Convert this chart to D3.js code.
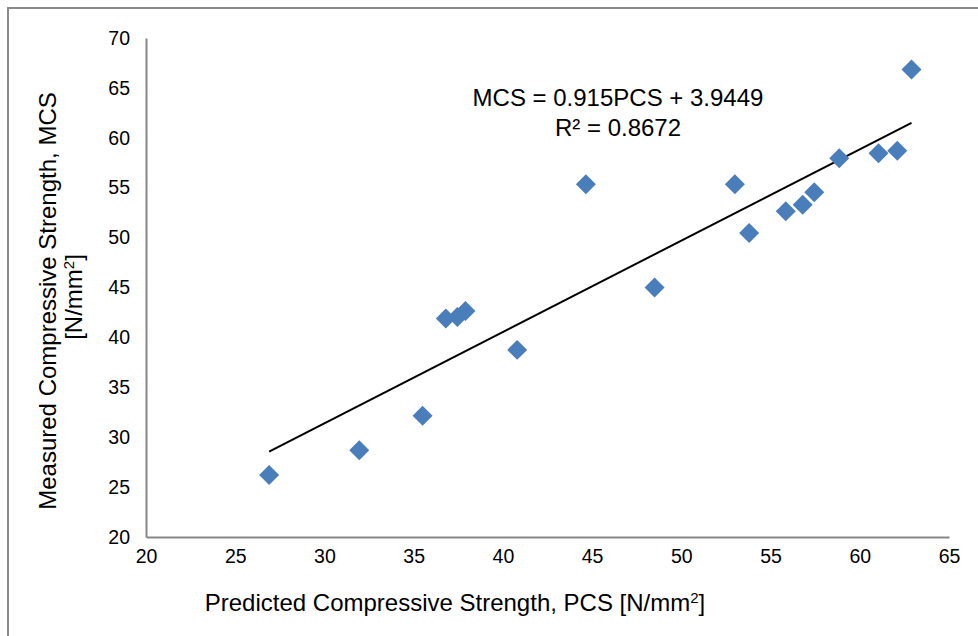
<!DOCTYPE html>
<html>
<head>
<meta charset="utf-8">
<script src="https://cdn.jsdelivr.net/npm/d3@7"></script>
<style>
  body { margin: 0; background: #fff; }
  svg text { font-family: "Liberation Sans", Arial, sans-serif; fill: #000; }
</style>
</head>
<body>
<div class="Graph"></div>
<script>
// predicted (x) vs measured (y) compressive strength
const pcs = [26.9, 31.95, 35.5, 36.8, 37.45, 37.9, 40.8, 44.65, 48.5, 53.0, 53.8, 55.85, 56.8, 57.45, 58.85, 61.05, 62.1, 62.9];
const mcs = [26.2, 28.7, 32.15, 41.9, 42.05, 42.65, 38.75, 55.35, 45.0, 55.35, 50.45, 52.65, 53.3, 54.55, 57.95, 58.45, 58.7, 66.85];
const slope = 0.915, intercept = 3.9449;
const eqLines = ["MCS = 0.915PCS + 3.9449", "R² = 0.8672"];
const xTicks = [20, 25, 30, 35, 40, 45, 50, 55, 60, 65];
const yTicks = [20, 25, 30, 35, 40, 45, 50, 55, 60, 65, 70];

const W = 978, H = 636;
const mLeft = 146, mRight = 949, mTop = 38, mBottom = 537;

let svg = d3.select(".Graph")
  .append("svg")
  .attr("width", W)
  .attr("height", H);

// outer frame (chart area border, cut by the page edge)
svg.append("rect")
  .attr("x", 8).attr("y", 8)
  .attr("width", W + 20).attr("height", H + 20)
  .attr("fill", "none")
  .attr("stroke", "#8a8a8a")
  .attr("stroke-width", 2);

let x = d3.scaleLinear().domain([20, 65]).range([mLeft, mRight]);
let y = d3.scaleLinear().domain([20, 70]).range([mBottom, mTop]);

let gx = svg.append("g")
  .attr("transform", "translate(0," + mBottom + ")")
  .call(d3.axisBottom(x).tickValues(xTicks).tickSize(0).tickSizeOuter(0).tickPadding(12));
let gy = svg.append("g")
  .attr("transform", "translate(" + mLeft + ",0)")
  .call(d3.axisLeft(y).tickValues(yTicks).tickSize(0).tickSizeOuter(0).tickPadding(16));

[gx, gy].forEach(g => {
  g.select(".domain").attr("stroke", "#868686").attr("stroke-width", 2);
  g.selectAll("text")
    .style("font-family", "'Liberation Sans', Arial, sans-serif")
    .style("font-size", "19.5px")
    .attr("fill", "#000");
});

// trend line across the data range
let ext = d3.extent(pcs);
let line = d3.line().x(d => x(d)).y(d => y(slope * d + intercept));
svg.append("path")
  .attr("d", line(ext))
  .attr("fill", "none")
  .attr("stroke", "#000")
  .attr("stroke-width", 2);

// diamond markers
let sym = d3.symbol().type(d3.symbolSquare).size(200);
svg.selectAll(".point")
  .data(pcs)
  .enter()
  .append("path")
  .attr("class", "point")
  .attr("d", sym)
  .attr("transform", (d, i) => "translate(" + x(d) + "," + y(mcs[i]) + ") rotate(45)")
  .attr("fill", "#4a7ebb");

// equation label
let eq = svg.append("text")
  .attr("text-anchor", "middle")
  .style("font-size", "24px");
eqLines.forEach((t, i) => {
  eq.append("tspan")
    .attr("x", 618)
    .attr("y", 106 + i * 30)
    .text(t);
});

// axis titles
let xt = svg.append("text")
  .attr("x", 455).attr("y", 611)
  .attr("text-anchor", "middle")
  .style("font-size", "24px");
xt.append("tspan").text("Predicted Compressive Strength, PCS [N/mm");
xt.append("tspan").attr("baseline-shift", "super").style("font-size", "15px").text("2");
xt.append("tspan").text("]");

let yt = svg.append("text")
  .attr("transform", "translate(56,301) rotate(-90)")
  .attr("text-anchor", "middle")
  .style("font-size", "24px");
yt.append("tspan").attr("x", 0).attr("y", 0).text("Measured Compressive Strength, MCS");
let yt2 = svg.append("text")
  .attr("transform", "translate(82,297) rotate(-90)")
  .attr("text-anchor", "middle")
  .style("font-size", "24px");
yt2.append("tspan").text("[N/mm");
yt2.append("tspan").attr("baseline-shift", "super").style("font-size", "15px").text("2");
yt2.append("tspan").text("]");
</script>
</body>
</html>
